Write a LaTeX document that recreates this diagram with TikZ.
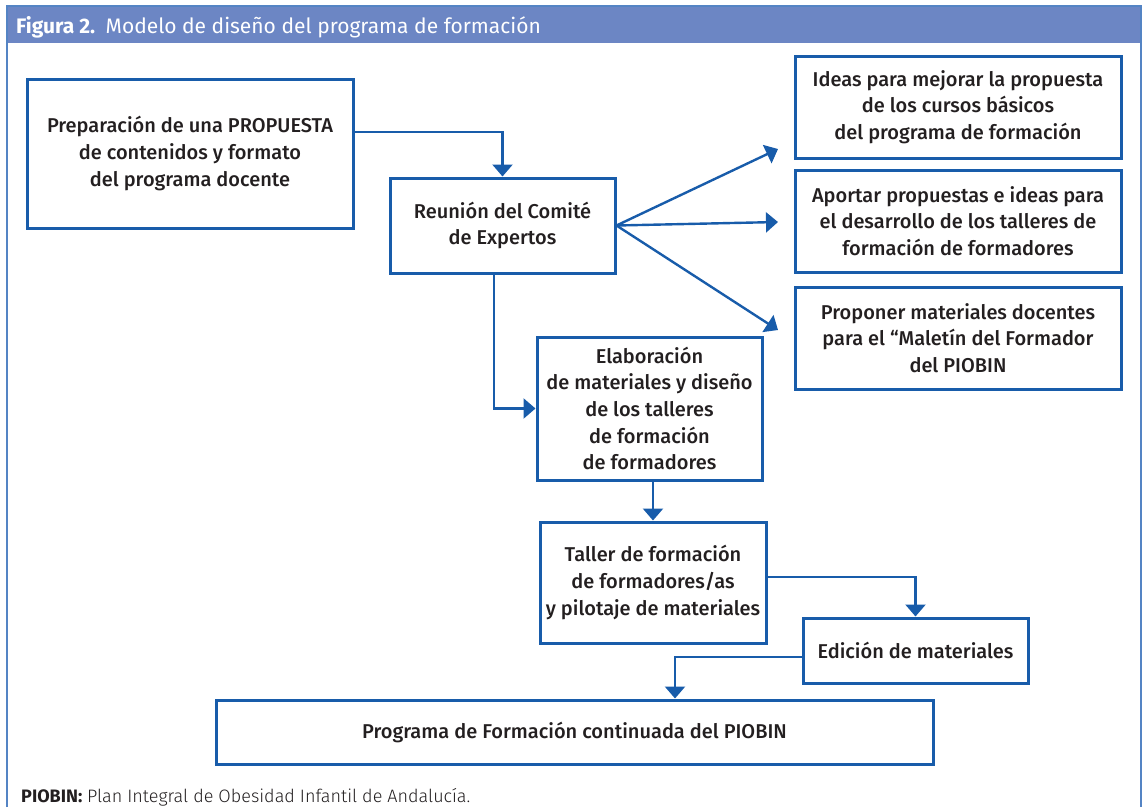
\documentclass[tikz,border=0pt]{standalone}
\usepackage{fontspec}
\setmainfont{Fira Sans}
\newfontfamily\medfont{Fira Sans Medium}
\newfontfamily\lightfont{Fira Sans Light}
\usetikzlibrary{arrows.meta}
\definecolor{boxblue}{RGB}{24,92,170}
\definecolor{barblue}{RGB}{108,134,196}
\definecolor{frameblue}{RGB}{84,132,196}
\definecolor{txt}{RGB}{35,31,32}
\begin{document}
\begin{tikzpicture}[x=1pt,y=-1pt,
  box/.style={draw=boxblue, line width=3pt, inner sep=0pt, align=center, text=txt,
    font=\medfont\fontsize{20}{26.7}\selectfont},
  arr/.style={draw=boxblue, line width=2.4pt, -{Triangle[width=20pt,length=12pt]}}]
\useasboundingbox (0,0) rectangle (1144,807);
% frame and header
\fill[barblue] (7,6) rectangle (1141,43);
\draw[frameblue, line width=1.6pt] (7,807) -- (7,6) -- (1141,6) -- (1141,807);
\node[anchor=base west, text=white, inner sep=0pt, font=\fontsize{21}{24}\selectfont] (title) at (16,33)
  {{\bfseries Figura 2.}\enspace Modelo de diseño del programa de formación};
% boxes
\node[box, minimum width=326pt, minimum height=149pt] (prep) at (190,153.5)
  {Preparación de una PROPUESTA\\de contenidos y formato\\del programa docente};
\node[box, minimum width=225pt, minimum height=95pt] (reun) at (502.5,225.5)
  {Reunión del Comité\\de Expertos};
\node[box, minimum width=225pt, minimum height=143pt] (elab) at (649.5,408.5)
  {Elaboración\\de materiales y diseño\\de los talleres\\de formación\\de formadores};
\node[box, minimum width=326pt, minimum height=102pt] (ideas) at (958,107)
  {Ideas para mejorar la propuesta\\de los cursos básicos\\del programa de formación};
\node[box, minimum width=326pt, minimum height=102pt] (aport) at (958,221)
  {Aportar propuestas e ideas para\\el desarrollo de los talleres de\\formación de formadores};
\node[box, minimum width=326pt, minimum height=102pt] (prop) at (958,338)
  {Proponer materiales docentes\\para el “Maletín del Formador\\del PIOBIN};
\node[box, minimum width=226pt, minimum height=121pt] (taller) at (653,582.5)
  {Taller de formación\\de formadores/as\\y pilotaje de materiales};
\node[box, minimum width=225pt, minimum height=65pt] (edic) at (915.5,650.5)
  {Edición de materiales};
\node[box, minimum width=717pt, minimum height=64pt] (prog) at (574.5,732)
  {Programa de Formación continuada del PIOBIN};
% arrow end points
\coordinate (t1) at (778,149);
\coordinate (t2) at (778,222);
\coordinate (t3) at (778,330);
% connectors
\draw[arr] (prep.east |- 0,132) -| (reun.north);
\draw[arr] (reun.south -| 494,0) |- (elab.west);
\draw[arr] (reun.east) -- (t1);
\draw[arr] (reun.east) -- (t2);
\draw[arr] (reun.east) -- (t3);
\draw[arr] (taller.north |- elab.south) -- (taller.north);
\draw[arr] (taller.east |- 0,577) -| (edic.north);
\draw[arr] (edic.west |- 0,657) -| (prog.north -| 675,0);
% footer
\node[anchor=base west, inner sep=0pt, text=txt, font=\fontsize{18}{20}\selectfont] (foot) at (21,802)
  {{\bfseries PIOBIN:} {\lightfont Plan Integral de Obesidad Infantil de Andalucía.}};
\end{tikzpicture}
\end{document}
